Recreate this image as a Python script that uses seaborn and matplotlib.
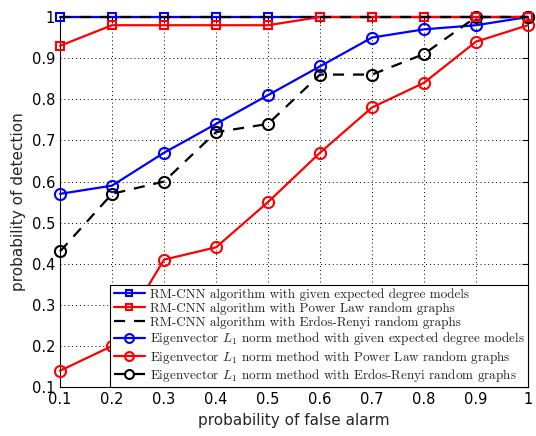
import numpy as np
import pandas as pd
import matplotlib
matplotlib.use("Agg")
import matplotlib.pyplot as plt
import seaborn as sns

# false alarm probabilities (x axis)
p_fa = [0.1, 0.2, 0.3, 0.4, 0.5, 0.6, 0.7, 0.8, 0.9, 1.0]

# RM-CNN algorithm
rmcnn_expected = [1, 1, 1, 1, 1, 1, 1, 1, 1, 1]
rmcnn_powerlaw = [0.93, 0.98, 0.98, 0.98, 0.98, 1, 1, 1, 1, 1]
rmcnn_erdos = [1, 1, 1, 1, 1, 1, 1, 1, 1, 1]

# Eigenvector L1 norm method
eig_expected = [0.57, 0.59, 0.67, 0.74, 0.81, 0.88, 0.95, 0.97, 0.98, 1.0]
eig_powerlaw = [0.14, 0.20, 0.41, 0.44, 0.55, 0.67, 0.78, 0.84, 0.94, 0.98]
eig_erdos = [0.43, 0.57, 0.60, 0.72, 0.74, 0.86, 0.86, 0.91, 1.0, 1.0]

labels = [
    "RM-CNN algorithm with given expected degree models",
    "RM-CNN algorithm with Power Law random graphs",
    "RM-CNN algorithm with Erdos-Renyi random graphs",
    "Eigenvector $L_1$ norm method with given expected degree models",
    "Eigenvector $L_1$ norm method with Power Law random graphs",
    "Eigenvector $L_1$ norm method with Erdos-Renyi random graphs",
]

sns.set_style("white")
plt.rcParams["mathtext.fontset"] = "cm"

fig = plt.figure(figsize=(5.36, 4.36), dpi=100)
ax = fig.add_axes([0.112, 0.112, 0.873, 0.849])

# (values, color, marker, linestyle, markersize, label)
series = [
    (eig_powerlaw, "#ff0000", "o", "-", 8, labels[4]),
    (eig_expected, "#0000ff", "o", "-", 8, labels[3]),
    (eig_erdos, "#000000", "o", (0, (5, 4)), 8, labels[5]),
    (rmcnn_expected, "#0000ff", "s", "-", 5.5, labels[0]),
    (rmcnn_powerlaw, "#ff0000", "s", "-", 5.5, labels[1]),
    (rmcnn_erdos, "#000000", None, (0, (5, 4)), 6, labels[2]),
]

for vals, col, mk, ls, ms, lab in series:
    df = pd.DataFrame({"x": p_fa, "y": vals})
    sns.lineplot(data=df, x="x", y="y", ax=ax, color=col, marker=mk,
                 linestyle=ls, linewidth=1.6, markersize=ms,
                 markerfacecolor="none", markeredgecolor=col,
                 markeredgewidth=1.5, label=lab, clip_on=False, zorder=3)

ax.set_xlim(0.1, 1.0)
ax.set_ylim(0.1, 1.0)
ax.set_xticks(np.arange(0.1, 1.01, 0.1))
ax.set_yticks(np.arange(0.1, 1.01, 0.1))
ax.set_xticklabels(["0.1", "0.2", "0.3", "0.4", "0.5", "0.6", "0.7", "0.8", "0.9", "1"])
ax.set_yticklabels(["0.1", "0.2", "0.3", "0.4", "0.5", "0.6", "0.7", "0.8", "0.9", "1"])
ax.grid(True, color="black", linestyle=(0, (1, 3)), linewidth=0.7)
ax.tick_params(direction="in", length=4, top=True, right=True, labelsize=10.5,
               colors="black")
for s in ax.spines.values():
    s.set_color("black")
    s.set_linewidth(0.8)

ax.set_xlabel("probability of false alarm", fontsize=11)
ax.set_ylabel("probability of detection", fontsize=11)

handles, labs = ax.get_legend_handles_labels()
lut = dict(zip(labs, handles))
leg = ax.legend([lut[l] for l in labels], labels, loc="lower right",
                prop={"family": "cmr10", "size": 9.5}, frameon=True,
                fancybox=False, edgecolor="black", framealpha=1,
                handlelength=2.4, labelspacing=0.1, borderpad=0.25,
                handletextpad=0.35, borderaxespad=0.0, markerscale=0.8)
leg.get_frame().set_linewidth(0.8)
leg.set_zorder(5)

fig.savefig("out.png", dpi=100)
